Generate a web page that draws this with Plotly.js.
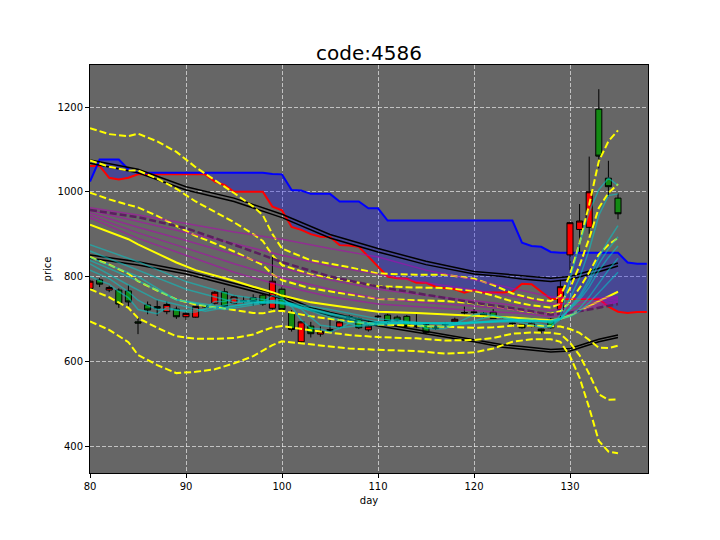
<!DOCTYPE html>
<html><head><meta charset="utf-8">
<script src="https://cdn.plot.ly/plotly-3.0.1.min.js"></script>
<style>html,body{margin:0;padding:0;background:#fff;}#chart{width:720px;height:540px;}</style>
</head><body><div id="chart"></div>
<script>
// ---- candles (day 80..135) ----
const candleDays = [80,81,82,83,84,85,86,87,88,89,90,91,92,93,94,95,96,97,98,99,100,101,102,103,104,105,106,107,108,109,110,111,112,113,114,115,116,117,118,119,120,121,122,123,124,125,126,127,128,129,130,131,132,133,134,135];
const openP  = [772,792,768,768,766,693,733,729,717,723,705,704,728,737,764,737,741,750,756,725,770,715,646,683,664,675,681,704,700,674,705,709,704,706,681,686,682,686,693,714,715,713,716,703,690,686,682,676,699,722,851,911,916,1195,1032,985];
const highP  = [792,796,778,772,780,705,741,744,741,729,717,731,733,766,773,755,752,758,760,850,776,721,695,693,682,702,700,709,703,697,710,712,708,709,711,688,684,692,703,729,723,716,723,706,691,688,692,677,702,792,929,971,1083,1242,1073,996];
const lowP   = [768,775,763,726,730,664,711,707,711,700,697,703,725,734,728,735,737,731,731,722,718,670,643,656,658,670,678,700,676,670,702,690,694,680,678,664,674,682,691,707,705,703,700,701,681,677,680,666,677,697,815,858,900,1055,988,935];
const closeP = [789,782,774,735,740,690,721,725,734,705,713,729,730,763,729,752,743,741,735,789,722,675,693,665,670,672,693,705,679,683,706,694,697,682,683,668,677,687,699,715,716,707,701,704,689,679,690,672,679,776,927,931,1000,1084,1012,948];

// ---- cloud lines (day 80..138) ----
const cloudDays = [80,81,82,83,84,85,86,87,88,89,90,91,92,93,94,95,96,97,98,99,100,101,102,103,104,105,106,107,108,109,110,111,112,113,114,115,116,117,118,119,120,121,122,123,124,125,126,127,128,129,130,131,132,133,134,135,136,137,138];
const spanB = [1024,1076,1076,1076,1053,1045,1045,1045,1045,1045,1045,1045,1045,1045,1045,1045,1045,1045,1045,1042,1041,1004,1003,995,995,995,977,977,977,961,961,932,932,932,932,932,932,932,932,932,932,932,932,932,932,880,872,870,858,856,856,856,856,856,856,856,833,830,830];
const spanA = [1061,1061,1033,1029,1033,1041,1041,1041,1041,1041,1041,1041,1041,1024,1016,1000,1000,1000,1000,965,956,917,910,900,894,893,874,873,870,847,823,800,796,795,785,785,776,772,770,762,768,762,762,762,764,783,782,765,747,747,747,747,747,747,729,717,714,716,716];

// ---- black line pairs ----
const upDays = [80,85,90,95,100,105,110,115,120,123,125,128,130,133,135];
const upA = [1075,1053,1012,985,947,899,866,836,812,806,801,796,800,819,832];
const upB = [1067,1045,1004,977,939,891,858,828,806,800,794,788,793,811,825];
const loDays = [80,85,90,95,100,103,105,110,115,120,123,125,128,130,133,135];
const loA = [851,835,813,784,755,727,715,690,671,652,639,635,628,630,652,662];
const loB = [843,827,806,777,748,720,708,683,665,646,633,629,622,624,646,656];

// ---- moving average and bands ----
const bandDays = [80,82,84,85,87,89,91,93,95,97,98,99,100,103,107,110,114,117,120,122,124,126,128,129,130,131,132,133,134,135];
const ma = [922,905,888,876,855,833,815,803,790,776,770,763,755,739,726,717,714,711,708,705,703,700,697,700,708,720,730,742,753,764];
const up1 = [998,982,969,963,943,920,896,878,859,838,827,805,791,772,758,747,744,742,737,730,722,716,712,718,740,773,810,852,875,891];
const up2 = [1074,1059,1050,1050,1031,1007,977,953,928,900,884,850,827,805,790,777,774,773,766,755,741,732,727,736,772,826,890,962,997,1018];
const up3 = [1150,1136,1131,1137,1119,1094,1058,1028,997,965,945,900,866,838,822,807,804,804,795,780,760,748,742,754,804,879,970,1072,1119,1145];
const dn1 = [846,828,807,789,767,746,734,728,721,714,713,718,719,706,694,687,684,680,679,680,684,684,682,682,676,667,650,632,631,637];
const dn2 = [770,751,726,702,679,659,653,653,655,663,672,680,683,673,662,657,654,649,650,655,665,668,667,664,644,614,570,522,509,510];
const dn3 = [694,674,645,615,591,572,575,581,595,612,625,638,647,640,630,627,624,618,621,630,646,652,652,646,612,561,490,412,387,383];

// ---- purple lines ----
const purDays = [80,85,90,95,100,105,110,115,120,125,128,130,132,135];
const pur1 = [962,945,925,905,888,866,846,815,792,768,752,748,748,752];
const pur2 = [956,930,905,878,850,825,805,785,768,750,735,736,741,749];
const pur3 = [950,916,885,852,820,792,770,755,743,730,720,726,735,746];
const pur4 = [944,903,867,830,797,770,748,738,730,720,711,718,729,742];
const pur5 = [938,890,850,810,778,752,735,727,720,713,705,712,724,739];
const purDash = [957,940,914,875,834,800,776,757,738,722,710,715,722,735];

// ---- teal lines ----
const teal1Days = candleDays;
const teal1 = [800,790,782,764,750,722,717,712,727,721,717,716,724,741,741,748,741,745,740,755,749,729,697,678,676,669,678,690,692,689,689,694,699,691,687,678,676,677,688,700,710,713,708,704,698,691,686,680,680,709,794,878,953,1005,1032,1015];
const teal2Days = [80,82,84,85,86,87,88,90,92,94,96,98,100,102,104,106,108,110,113,116,119,122,125,128,129,130,131,132,133,134,135];
const teal2 = [815,795,764,744,732,722,722,720,722,733,743,740,746,723,685,679,684,693,692,681,689,708,696,682,699,749,797,863,944,991,995];
const teal3Days = [80,84,87,92,97,101,104,108,113,118,122,126,128,129,130,131,132,133,134,135];
const teal3 = [830,780,745,718,738,736,711,682,692,686,696,700,690,699,727,755,794,845,885,920];
const teal4Days = [80,85,89,94,99,104,109,114,119,124,128,129,130,131,132,133,134,135];
const teal4 = [838,790,745,722,740,715,687,690,688,697,692,700,725,750,785,830,865,894];
const teal5 = [845,800,745,728,742,719,690,689,691,696,695,701,722,745,775,813,845,872];
const teal6Days = [80,85,90,95,100,105,110,115,120,125,128,130,131,132,133,134,135];
const teal6 = [860,815,770,740,738,712,693,690,692,697,694,708,725,752,785,815,843];
const teal7 = [875,835,788,755,740,722,700,690,691,695,696,705,718,738,762,787,810];

const X_RANGE = [80, 138.125];
const Y_RANGE = [336.3, 1299.1];

function line(x, y, color, width, dash, axis) {
  return {type:'scatter', mode:'lines', x:x, y:y, xaxis:axis[0], yaxis:axis[1],
    line:{color:color, width:width, dash:dash||'solid'}, hoverinfo:'skip', showlegend:false};
}
const base = ['x','y'], top3 = ['x3','y3'];
const traces = [];
// layer 1: cloud
traces.push(line(cloudDays, spanA, '#ff0000', 2, null, base));
const b = line(cloudDays, spanB, '#0000ff', 2, null, base);
b.fill = 'tonexty'; b.fillcolor = 'rgba(0,0,255,0.3)';
traces.push(b);
// layer 2: candles
traces.push({type:'candlestick', x:candleDays, open:openP, high:highP, low:lowP, close:closeP,
  xaxis:'x2', yaxis:'y2', whiskerwidth:0,
  increasing:{line:{color:'black', width:1}, fillcolor:'#ff0000'},
  decreasing:{line:{color:'black', width:1}, fillcolor:'#138a13'},
  hoverinfo:'skip', showlegend:false});
// layer 3: lines
traces.push(line(upDays, upA, 'black', 1.5, null, top3));
traces.push(line(upDays, upB, 'black', 1.5, null, top3));
traces.push(line(loDays, loA, 'black', 1.5, null, top3));
traces.push(line(loDays, loB, 'black', 1.5, null, top3));
const yd = '7px,3px';
[up1,up2,up3,dn1,dn2,dn3].forEach(arr => traces.push(line(bandDays, arr, '#ffff00', 2, yd, top3)));
traces.push(line(bandDays, ma, '#ffff00', 2, null, top3));
const pc = 'rgba(180,0,180,0.55)';
[pur1,pur2,pur3,pur4,pur5].forEach(arr => traces.push(line(purDays, arr, pc, 1.5, null, top3)));
traces.push(line(purDays, purDash, '#5a205e', 2.5, '7px,3px', top3));
const tc = 'rgba(0,200,200,0.55)';
traces.push(line(teal1Days, teal1, tc, 1.5, null, top3));
traces.push(line(teal2Days, teal2, tc, 1.5, null, top3));
traces.push(line(teal3Days, teal3, tc, 1.5, null, top3));
traces.push(line(teal4Days, teal4, tc, 1.5, null, top3));
traces.push(line(teal4Days, teal5, tc, 1.5, null, top3));
traces.push(line(teal6Days, teal6, tc, 1.5, null, top3));
traces.push(line(teal6Days, teal7, tc, 1.5, null, top3));

const hiddenAx = (ov) => ({overlaying:ov, range: ov==='x'?X_RANGE:Y_RANGE, visible:false, showgrid:false, zeroline:false, fixedrange:true});
const layout = {
  width:720, height:540,
  margin:{l:90, r:72, t:65, b:67, pad:0},
  paper_bgcolor:'#ffffff', plot_bgcolor:'#666666',
  font:{family:'DejaVu Sans', size:10, color:'black'},
  showlegend:false,
  boxgap:0.1,
  title:{text:'code:4586', font:{family:'DejaVu Sans', size:20, color:'black'}, x:0.5, xref:'paper', xanchor:'center', y:1-53/540, yref:'container', yanchor:'middle'},
  xaxis:{range:X_RANGE, tickvals:[80,90,100,110,120,130], ticks:'outside', ticklen:4, tickcolor:'black',
    showgrid:true, gridcolor:'rgba(255,255,255,0.75)', griddash:'4px,2px', gridwidth:0.8,
    showline:true, mirror:true, linecolor:'black', linewidth:1, zeroline:false,
    title:{text:'day', font:{size:10}, standoff:5}, rangeslider:{visible:false}},
  yaxis:{range:Y_RANGE, tickvals:[400,600,800,1000,1200], ticks:'outside', ticklen:4, tickcolor:'black',
    showgrid:true, gridcolor:'rgba(255,255,255,0.75)', griddash:'4px,2px', gridwidth:0.8,
    showline:true, mirror:true, linecolor:'black', linewidth:1, zeroline:false,
    title:{text:'price', font:{size:10}, standoff:4}},
  xaxis2:Object.assign(hiddenAx('x'), {rangeslider:{visible:false}}),
  yaxis2:hiddenAx('y'),
  xaxis3:hiddenAx('x'),
  yaxis3:hiddenAx('y')
};
Plotly.newPlot('chart', traces, layout, {staticPlot:true, displayModeBar:false});
</script></body></html>
